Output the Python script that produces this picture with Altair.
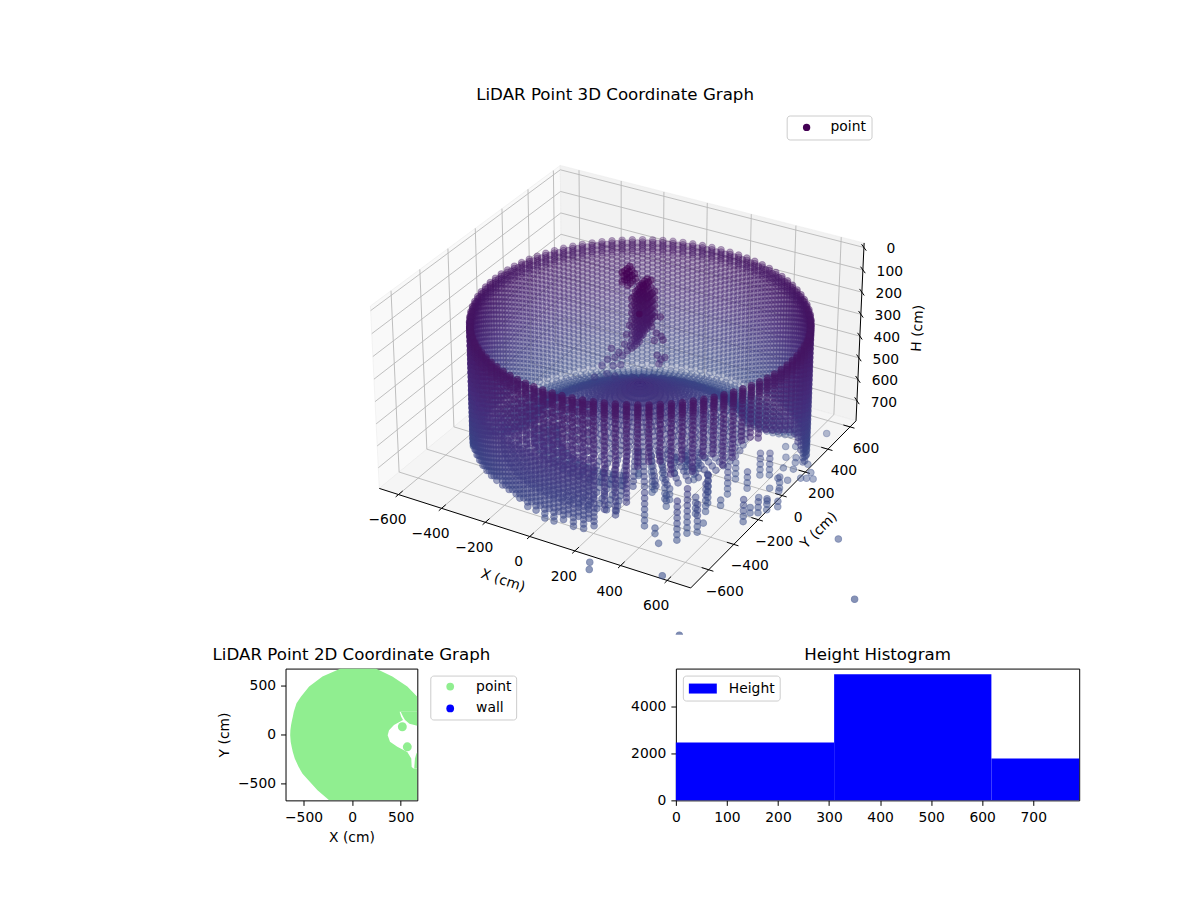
import numpy as np
import pandas as pd
import altair as alt

alt.data_transformers.disable_max_rows()

FONT = "DejaVu Sans"

# ---------- values (cm) ----------
X_LIMITS = [-690, 700]
Y_LIMITS = [-740, 655]
H_LIMITS = [-20, 795]
X_TICKS = [-600, -400, -200, 0, 200, 400, 600]
Y_TICKS = [-600, -400, -200, 0, 200, 400, 600]
H_TICKS = [0, 100, 200, 300, 400, 500, 600, 700]

ROOM_CENTRE = [85, -40]
WALL_RADIUS = 660
WALL_ANGLES = [-180, -176.4, -172.8, -169.2, -165.6, -162, -158.4, -154.8, -151.2,
               -147.6, -144, -140.4, -136.8, -133.2, -129.6, -126,
               -122.4, -118.8, -115.2, -111.6, -108, -104.4, -100.8, -97.2, -93.6, -90, -86.4, -82.8, -79.2, -75.6,
               -72, -68.4, -64.8,
               -61.2, -57.6, -54, -50.4, -46.8, -43.2, -39.6, -36, -32.4, -28.8, -25.2, -21.6, -18, -14.4, -10.8, -7.2, -3.6,
               0, 3.6, 7.2, 10.8,
               14.4, 18, 21.6, 25.2, 28.8, 32.4, 36,
               39.6, 43.2, 46.8, 50.4, 54, 57.6, 61.2, 64.8, 68.4, 72, 75.6, 79.2, 82.8, 86.4, 90, 93.6, 97.2, 100.8,
               104.4, 108, 111.6, 115.2, 118.8, 122.4, 126, 129.6, 133.2, 136.8, 140.4, 144, 147.6, 151.2, 154.8,
               158.4, 162, 165.6, 169.2, 172.8, 176.4]
WALL_BOTTOM = [740, 740, 740, 740, 740, 740, 740, 740, 740,
               700, 680, 670, 660, 660, 660, 660,
               660, 660, 650, 660, 660, 680, 700, 700, 720, 720, 700, 720, 720, 700,
               620, 640, 580,
               420, 400, 400, 460, 400, 460, 400, 400, 460, 440, 380, 380, 400, 380, 400, 420, 440,
               470, 500, 560, 620,
               700, 720, 730, 740, 740, 740, 740,
               740, 740, 740, 740, 740, 740, 740, 740, 740, 740, 740, 740, 740, 740, 740, 740, 740, 740,
               740, 740, 740, 740, 740, 740, 740, 740, 740, 740, 740, 740, 740, 740, 740,
               740, 740, 740, 740, 740, 740]
WALL_RINGS = [155, 165, 175, 185, 195, 205, 220, 240, 260, 280, 300, 320, 340, 360, 380, 400, 420,
              440, 460, 480, 500, 520, 540, 560, 580, 600, 620, 640, 660, 680, 700, 720, 740]
# the far side of the room is sampled twice as finely
BACK_ANGLES = [30.6, 34.2, 37.8, 41.4, 45, 48.6, 52.2, 55.8, 59.4, 63, 66.6, 70.2, 73.8, 77.4, 81, 84.6, 88.2, 91.8,
               95.4, 99, 102.6, 106.2, 109.8, 113.4, 117, 120.6, 124.2, 127.8, 131.4, 135, 138.6, 142.2, 145.8,
               149.4, 153, 156.6, 160.2, 163.8, 167.4, 171, 174.6, 178.2, -178.2, -174.6, -171, -167.4, -163.8,
               -160.2, -156.6, -153, -149.4]
BACK_RINGS = [170, 190, 210, 230, 250, 270, 290, 310, 330, 350, 370, 390, 410, 430,
              450, 470, 490, 510, 530, 550, 570, 590, 610, 630, 650, 670, 690, 710, 730]
# the near left stretch of wall carries extra columns as well
NEAR_ANGLES = [-145.8, -142.2, -138.6, -135, -131.4, -127.8, -124.2, -120.6, -117, -113.4, -109.8, -106.2, -102.6,
               -99, -95.4, -91.8, -88.2, -84.6, -81, -77.4]
NEAR_RINGS = [170, 210, 250, 290, 330, 370, 410, 450, 470, 490, 510, 530, 550, 570, 590, 610, 630, 650, 670]

FLOOR_ANGLES = [40, 42, 44, 46, 48, 50, 52, 54, 56, 58, 60, 62, 64, 66, 68, 70, 72, 74, 76, 78, 80, 82, 84, 86, 88, 90,
                92, 94, 96, 98, 100, 102, 104, 106, 108, 110, 112, 114, 116, 118, 120, 122, 124, 126, 128, 130, 132,
                134, 136, 138, 140, 142, 144, 146, 148, 150, 152, 154, 156, 158, 160, 162, 164, 166, 168, 170, 172,
                174, 176, 178, 180, 182, 184, 186, 188, 190, 192, 194, 196, 198, 200]
FLOOR_RADII = [640, 615, 590, 565, 540, 515, 490, 465, 440]
FLOOR_HEIGHT = [750, 748, 744, 738, 730, 720, 708, 694, 680]
# ground behind the near left wall
LEFT_ANGLES = [-158, -154, -150, -146, -142, -138, -134, -130, -126, -122, -118, -114, -110, -106, -102, -98, -94,
               -90, -86, -82, -78, -74, -70]
LEFT_RADII = [540, 510, 480, 450, 420, 390, 360, 330]
LEFT_HEIGHT = [700, 696, 692, 688, 684, 680, 676, 672]
# the mound under the mast, seen all the way round
CORE_ANGLES = [40, 46, 52, 58, 64, 70, 76, 82, 88, 94, 100, 106, 112, 118, 124, 130, 136, 142, 148, 154, 160, 166,
               172, 178, 184, 190, 196, -160, -154, -148, -142, -136, -130, -124, -118, -112, -106, -100, -94, -88,
               -82, -76, -70, -64, -58, -52, -46, -40, -34, -28, -22, -16, -10, -4, 2, 8, 14, 20, 26, 32]
CORE_RADII = [420, 400, 380, 360, 340, 320, 300, 280, 260, 240, 220, 200, 180, 160, 140, 120, 100, 80, 60, 40, 25, 10]
CORE_HEIGHT = [660, 650, 640, 630, 620, 610, 600, 590, 580, 570, 560, 550, 540, 530, 520, 510, 500, 490, 480, 470,
               465, 460]
# pale returns on the ground at the right of the room
RIGHT_ANGLES = [-8, 0, 8, 16, 24, 32]
RIGHT_RADII = [620, 580]
RIGHT_H = 750

# lower wall fragments: x, y, top of the run, read from the front of the room
LOWER_SHIFT = [54, -127]
LOWER_X = [315, 376, 421, 470, 480, 510, 500, 468, 498, 627, 647, 666, 693, 407, 482, 457, 528, 526, 558, 636,
           109, 146, 207, 230, 266, 295, 319, 222, 307,
           675, 695, 720, 691, 604, 653,
           116, 220, 288, 442, 446, 621, 185, 218, 279, 277, 23, 53, 102, 127, 244, 318]
LOWER_Y = [-377, -404, -456, -402, -341, -315, -248, -171, -105, -163, -79, -43, -3, -40, -19, 94, 57, 168, 187, 122,
           -61, -24, -42, 12, 49, 91, -214, -153, -166,
           227, 238, 246, 284, 320, 333,
           -73, -131, -170, -204, -113, -95, 105, 124, 106, 176, 87, 128, 117, 150, 75, 9]
LOWER_TOP = [588, 720, 760, 580, 548, 620, 760, 628, 732, 644, 696, 700, 724, 668, 620, 684, 680, 656, 648, 700,
             660, 668, 660, 672, 680, 680, 700, 680, 688,
             760, 760, 760, 760, 760, 760,
             760, 712, 684, 668, 620, 720, 760, 760, 760, 760, 760, 760, 760, 760, 668, 692]
LOWER_RINGS = [760, 735, 710, 685, 660, 635, 610, 585, 560]

# stray returns outside the box
STRAY_X = [1281, 1050, 666, 835, 594, 315, 338]
STRAY_Y = [-550, -217, 454, -1072, -767, -824, -867]
STRAY_H = [760, 760, 760, 760, 760, 760, 760]

# the mast in the middle of the room: a thick body, then loose returns
MAST_BODY_Y = [-10, 10, 30, 50]
MAST_BODY_X = [-13, -5, 8, 12, -13,
               30, 30, 30, 30, 30, 30, 30, 30,
               47, 47, 47, 47, 47, 47, 47, 47,
               64, 64, 64, 64, 64, 64, 64, 64,
               81, 81, 81, 81, 81, 81, 81,
               98, 98, 98, 98, 98]
MAST_BODY_H = [-5, 7, 21, 43, 35,
               97, 129, 160, 192, 223, 255, 286, 318,
               61, 93, 124, 156, 187, 219, 250, 282,
               30, 61, 93, 124, 156, 187, 219, 250,
               30, 61, 93, 124, 156, 187, 219,
               75, 106, 138, 169, 187]
MAST_LOOSE_Y = 10
MAST_LOOSE_X = [12, -1, -13, -22, -39, -57, -74, -91, -65, -31, -5, 8,
                146, 107, 128, 150, 159, 120, 133, 150, 141, 167,
                -95, -117, -151, -57]
MAST_LOOSE_H = [322, 349, 322, 376, 367, 394, 358, 412, 435, 421, 277, 232,
                156, 210, 232, 241, 255, 268, 331, 345, 367, 331,
                480, 448, 511, 480]

# 2D footprint, row by row
FOOT_Y = [673, 591, 489, 386, 318, 233, 232, 181, 147, 96, 44, -7, -75, -126, -178, -246, -331, -348, -349,
          -400, -570, -673]
FOOT_LEFT = [-117, -305, -442, -527, -572, -600, -600, -610, -618, -628, -635, -637, -632, -622, -610, -590,
             -550, -540, -540, -510, -356, -236]
FOOT_RIGHT = [243, 414, 568, 671, 671, 671, 489, 505, 524, 431, 380, 366, 390, 465, 568, 609, 613, 633, 671,
              671, 671, 671]
NOTCH_UP_Y = [232, 181, 147, 110, 96, 90]
NOTCH_UP_X = [500, 525, 545, 590, 640, 671]
NOTCH_DOWN_Y = [-348, -331, -246, -200, -178]
NOTCH_DOWN_X = [640, 640, 647, 660, 671]
BLOB_X = [517, 568]
BLOB_Y = [79, -126]

# histogram
BIN_START = [0, 310, 618]
BIN_END = [310, 618, 790]
BIN_COUNT = [2470, 5380, 1790]

# pixel position of the box corners, used to place the 3D drawing on the page
CORNER_WORLD = [(-690, -740, 795), (700, -740, 795), (700, 655, 795), (-690, -740, -20), (-690, 655, -20), (700, 655, -20)]
CORNER_PAGE = [(379, 487), (691, 589), (856, 421), (370, 307), (560, 165), (865, 242)]

# ---------- 3D view of the default mplot3d camera ----------
ELEV, AZIM, DIST = np.radians(30), np.radians(-60), 10.0
BOX = np.array([1.19, 1.19, 0.70])
n_vec = np.array([np.cos(ELEV) * np.cos(AZIM), np.cos(ELEV) * np.sin(AZIM), np.sin(ELEV)])
u_vec = np.cross([0, 0, 1], n_vec)
u_vec = u_vec / np.linalg.norm(u_vec)
v_vec = np.cross(n_vec, u_vec)


def camera(x, y, h):
    p = np.stack([
        (np.asarray(x, float) - X_LIMITS[0]) / (X_LIMITS[1] - X_LIMITS[0]) * BOX[0] - BOX[0] / 2,
        (np.asarray(y, float) - Y_LIMITS[0]) / (Y_LIMITS[1] - Y_LIMITS[0]) * BOX[1] - BOX[1] / 2,
        (H_LIMITS[1] - np.asarray(h, float)) / (H_LIMITS[1] - H_LIMITS[0]) * BOX[2] - BOX[2] / 2,
    ], axis=-1) - DIST * n_vec
    depth = -(p @ n_vec)
    return p @ u_vec / depth, p @ v_vec / depth, depth


cw = np.array(CORNER_WORLD, float)
cp = np.array(CORNER_PAGE, float)
cx, cy, _ = camera(cw[:, 0], cw[:, 1], cw[:, 2])
design = np.column_stack([cx, cy, np.ones(len(cx))])
fit_x = np.linalg.lstsq(design, cp[:, 0], rcond=None)[0]
fit_y = np.linalg.lstsq(design, cp[:, 1], rcond=None)[0]


def page(x, y, h):
    a, b, d = camera(x, y, h)
    return fit_x[0] * a + fit_x[1] * b + fit_x[2], fit_y[0] * a + fit_y[1] * b + fit_y[2], d


# ---------- build the point cloud ----------
def polar(r, ang, h):
    t = np.radians(ang)
    return (ROOM_CENTRE[0] + r * np.cos(t), ROOM_CENTRE[1] + r * np.sin(t), h)


rows = []
for ang, bottom in zip(WALL_ANGLES, WALL_BOTTOM):
    rows += [polar(WALL_RADIUS, ang, h) for h in WALL_RINGS if h <= bottom]
for ang in BACK_ANGLES:
    rows += [polar(WALL_RADIUS, ang, h) for h in BACK_RINGS]
for ang in NEAR_ANGLES:
    rows += [polar(WALL_RADIUS, ang, h) for h in NEAR_RINGS]
for ang in FLOOR_ANGLES:
    rows += [polar(r, ang, h) for r, h in zip(FLOOR_RADII, FLOOR_HEIGHT)]
for ang in LEFT_ANGLES:
    rows += [polar(r, ang, h) for r, h in zip(LEFT_RADII, LEFT_HEIGHT)]
for ang in CORE_ANGLES:
    rows += [polar(r, ang, h) for r, h in zip(CORE_RADII, CORE_HEIGHT)]
for ang in RIGHT_ANGLES:
    rows += [polar(r, ang, RIGHT_H) for r in RIGHT_RADII]
for x, y, top in zip(LOWER_X, LOWER_Y, LOWER_TOP):
    rows += [(x + LOWER_SHIFT[0], y + LOWER_SHIFT[1], h) for h in LOWER_RINGS if h >= top]
rows += list(zip(STRAY_X, STRAY_Y, STRAY_H))
for my in MAST_BODY_Y:
    rows += [(x, my, h) for x, h in zip(MAST_BODY_X, MAST_BODY_H)]
rows += [(x, MAST_LOOSE_Y, h) for x, h in zip(MAST_LOOSE_X, MAST_LOOSE_H)]

cloud = pd.DataFrame(rows, columns=["wx", "wy", "h"])
cloud["px"], cloud["py"], cloud["d"] = page(cloud.wx, cloud.wy, cloud.h)
cloud["a"] = 1 - 0.62 * (cloud.d - cloud.d.min()) / (cloud.d.max() - cloud.d.min())
cloud["a"] = cloud["a"] * 0.95
cloud = cloud.sort_values("d", ascending=False)
cloud = cloud[["px", "py", "h", "a"]].round(2)

# ---------- top panel ----------
PAGE_L, PAGE_T, PAGE_B = 8, 106, 635
TOP_W, TOP_H = 1184, PAGE_B - PAGE_T
x_px = alt.Scale(domain=[PAGE_L, PAGE_L + TOP_W], range=[0, TOP_W])
y_px = alt.Scale(domain=[PAGE_B, PAGE_T])
xe = alt.X("px:Q", scale=x_px, axis=None)
ye = alt.Y("py:Q", scale=y_px, axis=None)


def seg_frame(segs):
    out = []
    for i, (p0, p1) in enumerate(segs):
        for p in (p0, p1):
            a, b, _ = page(p[0], p[1], p[2])
            out.append({"px": float(a), "py": float(b), "g": i})
    return pd.DataFrame(out)


def pane_frame(corners):
    """A flat quadrilateral wall as an area between its upper and lower edges."""
    pts = [page(c[0], c[1], c[2])[:2] for c in corners]
    pts = [(float(a), float(b)) for a, b in pts]
    out = []
    for xv in sorted(p[0] for p in pts):
        hits = []
        for (x0, y0), (x1, y1) in zip(pts, pts[1:] + pts[:1]):
            lo, hi = min(x0, x1), max(x0, x1)
            if lo - 1e-9 <= xv <= hi + 1e-9 and hi > lo:
                hits.append(y0 + (xv - x0) / (x1 - x0) * (y1 - y0))
        out.append({"px": xv, "py": min(hits), "py2": max(hits)})
    return pd.DataFrame(out)


X0, X1 = X_LIMITS
Y0, Y1 = Y_LIMITS
T, B = H_LIMITS
PANES = [
    ("#f9f9f9", [(X0, Y0, B), (X0, Y1, B), (X0, Y1, T), (X0, Y0, T)]),
    ("#f2f2f2", [(X0, Y1, B), (X1, Y1, B), (X1, Y1, T), (X0, Y1, T)]),
    ("#f5f5f5", [(X0, Y0, B), (X1, Y0, B), (X1, Y1, B), (X0, Y1, B)]),
]
pane_layers = [
    alt.Chart(pane_frame(c)).mark_area(color=col, stroke="#e8e8e8", strokeWidth=0.5).encode(x=xe, y=ye, y2="py2:Q")
    for col, c in PANES
]

grid_segs = []
for t in X_TICKS:
    grid_segs += [((t, Y0, B), (t, Y1, B)), ((t, Y1, B), (t, Y1, T))]
for t in Y_TICKS:
    grid_segs += [((X0, t, B), (X1, t, B)), ((X0, t, B), (X0, t, T))]
for t in H_TICKS:
    grid_segs += [((X0, Y0, t), (X0, Y1, t)), ((X0, Y1, t), (X1, Y1, t))]
grid_layer = alt.Chart(seg_frame(grid_segs)).mark_line(color="#b8b8b8", strokeWidth=0.9).encode(x=xe, y=ye, detail="g:N")

axis_segs = [((X0, Y0, B), (X1, Y0, B)), ((X1, Y0, B), (X1, Y1, B)), ((X1, Y1, B), (X1, Y1, T))]
for t in X_TICKS:
    axis_segs.append(((t, Y0 - 20, B), (t, Y0 + 30, B)))
for t in Y_TICKS:
    axis_segs.append(((X1 + 20, t, B), (X1 - 30, t, B)))
for t in H_TICKS:
    axis_segs.append(((X1 + 20, Y1 - 20, t), (X1 - 20, Y1 + 20, t)))
axis_layer = alt.Chart(seg_frame(axis_segs)).mark_line(color="black", strokeWidth=1).encode(x=xe, y=ye, detail="g:N")


def label_frame(xs, ys, hs, labels, shift=(0, 0)):
    a, b, _ = page(np.array(xs, float), np.array(ys, float), np.array(hs, float))
    return pd.DataFrame({"px": a + shift[0], "py": b + shift[1], "t": labels})


def text_layer(df, **kw):
    return alt.Chart(df).mark_text(font=FONT, fontSize=13.9, color="black", **kw).encode(x=xe, y=ye, text="t:N")


def tlabel(v):
    return str(v).replace("-", "\u2212")


x_lab = text_layer(label_frame(X_TICKS, [Y0] * 7, [B] * 7, [tlabel(v) for v in X_TICKS], (-11, 26)))
y_lab = text_layer(label_frame([X1] * 7, Y_TICKS, [B] * 7, [tlabel(v) for v in Y_TICKS], (16, 22)))
h_lab = text_layer(label_frame([X1] * 8, [Y1] * 8, H_TICKS, [str(v) for v in H_TICKS], (27, 2)))
x_title = text_layer(label_frame([5], [Y0], [B], ["X (cm)"], (-28, 44)), angle=18)
y_title = text_layer(label_frame([X1], [-42], [B], ["Y (cm)"], (42, 30)), angle=315)
h_title = text_layer(label_frame([X1], [Y1], [387], ["H (cm)"], (58, -5)), angle=273)

FILL_SCALE = alt.Scale(domain=[0, 400, 800], range=["#440154", "#472d7b", "#3b528b"])
points = alt.Chart(cloud).mark_circle(size=42, strokeWidth=1.1, clip=True).encode(
    x=xe, y=ye,
    fill=alt.Fill("h:Q", scale=FILL_SCALE, legend=None),
    stroke=alt.Stroke("h:Q", scale=FILL_SCALE, legend=None),
    fillOpacity=alt.FillOpacity("a:Q", scale=None),
    strokeOpacity=alt.StrokeOpacity("a:Q", scale=None),
)


def legend(x, y, **kw):
    base = dict(orient="none", legendX=x, legendY=y, fillColor="white", strokeColor="#cccccc",
                cornerRadius=3, labelFont=FONT, labelFontSize=13.9, labelColor="black")
    base.update(kw)
    return alt.Legend(**base)


key_df = pd.DataFrame({"px": page([64], [-10], [156])[0], "py": page([64], [-10], [156])[1], "series": ["point"]})
key = alt.Chart(key_df).mark_circle(size=42, opacity=0.6).encode(
    x=xe, y=ye,
    color=alt.Color("series:N", scale=alt.Scale(domain=["point"], range=["#440154"]), title=None,
                    legend=legend(787 - PAGE_L, 115 - PAGE_T, symbolSize=54, symbolOpacity=1, padding=5,
                                  symbolOffset=8, labelOffset=17)),
)

top = alt.layer(*pane_layers, grid_layer, axis_layer, x_lab, y_lab, h_lab, x_title, y_title, h_title, points, key).properties(
    width=TOP_W, height=TOP_H,
    title=alt.TitleParams("LiDAR Point 3D Coordinate Graph", anchor="start", dx=468, font=FONT, fontSize=16.7,
                          fontWeight="normal", color="black", offset=3),
)

# ---------- bottom panels ----------
ax_style = dict(grid=False, domain=False, tickColor="black", tickSize=5, labelPadding=5, labelFlush=False,
                labelFont=FONT, labelFontSize=13.9, labelColor="black", titleFont=FONT, titleFontSize=13.9,
                titleFontWeight="normal", titleColor="black")


def title(text):
    return alt.TitleParams(text, font=FONT, fontSize=16.7, fontWeight="normal", color="black", anchor="middle", offset=5)


fx = alt.X("left:Q", scale=alt.Scale(domain=[-685, 671], nice=False),
           axis=alt.Axis(values=[-500, 0, 500], title="X (cm)", titlePadding=6,
                         labelExpr="replace(datum.label, '-', '\u2212')", **ax_style))
fy = alt.Y("y:Q", scale=alt.Scale(domain=[-673, 673], nice=False),
           axis=alt.Axis(values=[-500, 0, 500], title="Y (cm)", labelExpr="replace(datum.label, '-', '\u2212')", titlePadding=6, **ax_style))
foot = alt.Chart(pd.DataFrame({"y": FOOT_Y, "left": FOOT_LEFT, "right": FOOT_RIGHT})).mark_area(
    orient="horizontal", color="#90ee90", clip=True).encode(x=fx, x2="right:Q", y=fy)
up = alt.Chart(pd.DataFrame({"y": NOTCH_UP_Y, "left": NOTCH_UP_X, "right": [671] * 6})).mark_area(
    orient="horizontal", color="#90ee90", clip=True).encode(x=fx, x2="right:Q", y=fy)
down = alt.Chart(pd.DataFrame({"y": NOTCH_DOWN_Y, "left": NOTCH_DOWN_X, "right": [671] * 5})).mark_area(
    orient="horizontal", color="#90ee90", clip=True).encode(x=fx, x2="right:Q", y=fy)
blobs = alt.Chart(pd.DataFrame({"left": BLOB_X, "y": BLOB_Y, "series": ["point"] * 2})).mark_circle(size=80, opacity=1, clip=True).encode(
    x=fx, y=fy,
    color=alt.Color("series:N", scale=alt.Scale(domain=["point", "wall"], range=["#90ee90", "#0000ff"]), title=None,
                    legend=legend(431 - 286, 7, symbolSize=60, symbolOpacity=1, padding=4, rowPadding=7,
                                  symbolOffset=9, labelOffset=19)),
)
left_panel = alt.layer(foot, up, down, blobs).properties(width=132, height=132, title=title("LiDAR Point 2D Coordinate Graph"),
                                                         view=alt.ViewConfig(stroke="black", strokeWidth=1))

hist_df = pd.DataFrame({"s": BIN_START, "e": BIN_END, "n": BIN_COUNT, "z": [0, 0, 0], "series": ["Height"] * 3})
hist = alt.Chart(hist_df).mark_rect().encode(
    x=alt.X("s:Q", scale=alt.Scale(domain=[0, 790], nice=False),
            axis=alt.Axis(values=[0, 100, 200, 300, 400, 500, 600, 700], title=None, **ax_style)),
    x2="e:Q",
    y=alt.Y("n:Q", scale=alt.Scale(domain=[0, 5617], nice=False),
            axis=alt.Axis(values=[0, 2000, 4000], title=None, format="d", **ax_style)),
    y2="z:Q",
    color=alt.Color("series:N", scale=alt.Scale(domain=["Height"], range=["#0000ff"]), title=None,
                    legend=legend(7, 7, symbolType="M-2,-0.714H2V0.714H-2Z", symbolSize=196, symbolOpacity=1, padding=5,
                                  symbolOffset=7, labelOffset=18)),
).properties(width=404, height=132, title=title("Height Histogram"), view=alt.ViewConfig(stroke="black", strokeWidth=1))

spacer = alt.Chart(pd.DataFrame({"v": [0]})).mark_text(text="").encode(x=alt.value(0), y=alt.value(0)).properties(
    width=89, height=132)

bottom = alt.hconcat(spacer, left_panel, hist, spacing=113).resolve_scale(color="independent")
chart = alt.vconcat(top, bottom, spacing=10).resolve_scale(color="independent").properties(
    padding={"left": 0, "top": 77, "right": 0, "bottom": 0},
    background="white",
).configure_view(stroke="transparent")

chart.save("out.html", embed_options={"renderer": "svg", "actions": False})
